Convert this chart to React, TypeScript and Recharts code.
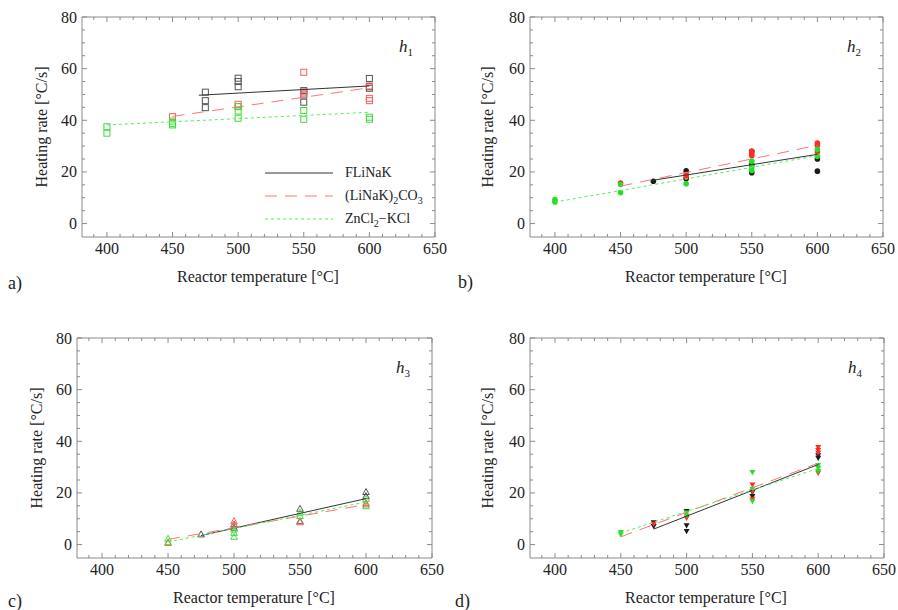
import { ScatterChart, Scatter, XAxis, YAxis, Legend } from 'recharts';

type Pt = { t: number; r: number };
const at = (t: number, ...rs: number[]): Pt[] => rs.map((r) => ({ t, r }));

// axis ticks
const xMajorTicks = [400, 450, 500, 550, 600, 650];
const yMajorTicks = [0, 20, 40, 60, 80];
const xTicks = [390, 400, 410, 420, 430, 440, 450, 460, 470, 480, 490, 500, 510, 520, 530, 540, 550, 560, 570, 580, 590, 600, 610, 620, 630, 640, 650];
const yTicks = [0, 5, 10, 15, 20, 25, 30, 35, 40, 45, 50, 55, 60, 65, 70, 75, 80];
const X_DOMAIN: [number, number] = [381, 650];
const Y_DOMAIN: [number, number] = [-5.2, 80];

const seriesNames = ['FLiNaK', '(LiNaK)2CO3', 'ZnCl2−KCl'];

// h1 – heating rate, open squares
const h1Flinak = [...at(475, 50.9, 47.6, 44.9), ...at(500, 56.3, 55, 53), ...at(550, 51.5, 49.8, 47), ...at(600, 56.2, 53, 52.4)];
const h1Carb = [...at(450, 41.4), ...at(500, 46.2, 45.3), ...at(550, 58.6, 51, 50.5), ...at(600, 53.3, 48.5, 47.6)];
const h1Zn = [...at(400, 37.5, 35), ...at(450, 39.7, 38.8, 38.2), ...at(500, 45.3, 43.6, 40.8), ...at(550, 43.8, 40.4), ...at(600, 41.2, 40.4)];
const h1FlinakFit = [...at(470, 49.7), ...at(600, 53.3)];
const h1CarbFit = [...at(450, 41.5), ...at(600, 52.6)];
const h1ZnFit = [...at(400, 38.2), ...at(600, 43.1)];

// h2 – filled circles
const h2Flinak = [...at(475, 16.4), ...at(500, 20.4, 17.4), ...at(550, 28, 22.8, 19.7), ...at(600, 25, 20.3)];
const h2Carb = [...at(450, 15.7), ...at(500, 19, 18), ...at(550, 28, 27, 26.3), ...at(600, 31.2, 30.3, 27.7)];
const h2Zn = [...at(400, 9.3, 8.4), ...at(450, 15.1, 12), ...at(500, 15.4), ...at(550, 24.1, 21.9, 20.6), ...at(600, 28.8, 26.1)];
const h2FlinakFit = [...at(475, 16.8), ...at(600, 26.8)];
const h2CarbFit = [...at(450, 14.5), ...at(600, 30.3)];
const h2ZnFit = [...at(400, 8.3), ...at(600, 26.3)];

// h3 – open triangles
const h3Flinak = [...at(475, 3.9), ...at(500, 7.7, 6.5), ...at(550, 13.8, 9), ...at(600, 20.3, 18.7)];
const h3Carb = [...at(450, 0.6), ...at(500, 9, 7.7), ...at(550, 8.6), ...at(600, 16, 15.5)];
const h3Zn = [...at(450, 2.2, 0.9), ...at(500, 5.8, 4.5, 3), ...at(550, 12.3, 11), ...at(600, 17.7, 14.8)];
const h3FlinakFit = [...at(475, 3.5), ...at(600, 17.8)];
const h3CarbFit = [...at(450, 2), ...at(600, 15.5)];
const h3ZnFit = [...at(450, 1), ...at(600, 16.5)];

// h4 – filled down triangles
const h4Flinak = [...at(475, 8.6, 7.1), ...at(500, 12.9, 7.4, 5.2), ...at(550, 20.3, 18.7), ...at(600, 34.5, 33.5)];
const h4Carb = [...at(475, 8), ...at(500, 10.3), ...at(550, 23.2, 20.6, 17.7), ...at(600, 37.7, 36.5, 35.5, 27.7)];
const h4Zn = [...at(450, 4.8, 3.9), ...at(500, 12.3, 11.2), ...at(550, 28, 21.5, 16.8), ...at(600, 30.7, 29.7, 28.4)];
const h4FlinakFit = [...at(475, 6), ...at(600, 31)];
const h4CarbFit = [...at(450, 3), ...at(600, 31.5)];
const h4ZnFit = [...at(450, 4.5), ...at(600, 29.5)];

const FONT = '"Liberation Serif", "Times New Roman", serif';
const FRAME = '#8a8a8a';
const TEXT = '#222';
const PT_COLORS = ['#1a1a1a', '#ff2a2a', '#22e022'];
const OPEN_COLORS = ['#555', '#ff5a5a', '#3ddc3d'];
const LINE_STYLES = [
  { stroke: '#333', dash: undefined as string | undefined },
  { stroke: '#ff7575', dash: '12 8' },
  { stroke: '#55ee55', dash: '3 3' },
];

// outer space around each plot; axes take 1px of it
const ML = 70, MT = 10, MR = 20, MB = 30;

const marker = (kind: string, color: string) => (props: any) => {
  const { cx, cy } = props;
  if (cx == null || cy == null) return <g />;
  if (kind === 'square') return <rect x={cx - 3} y={cy - 3} width={6} height={6} fill="none" stroke={color} strokeWidth={1} />;
  if (kind === 'dot') return <circle cx={cx} cy={cy} r={2.8} fill={color} />;
  if (kind === 'up') return <path d={`M${cx},${cy - 3.6}L${cx + 3.3},${cy + 2.4}L${cx - 3.3},${cy + 2.4}Z`} fill="none" stroke={color} strokeWidth={1} />;
  return <path d={`M${cx - 3},${cy - 2.2}L${cx + 3},${cy - 2.2}L${cx},${cy + 3}Z`} fill={color} />;
};

const noShape = () => <g />;

const BottomTick = (props: any) => {
  const { x, y, payload } = props;
  const major = xMajorTicks.includes(payload.value);
  return (
    <g>
      <line x1={x} y1={y} x2={x} y2={y - (major ? 5 : 3)} stroke={FRAME} />
      {major && (
        <text x={x} y={y + 17} textAnchor="middle" fontSize={16} fill={TEXT} fontFamily={FONT}>
          {payload.value}
        </text>
      )}
    </g>
  );
};
const TopTick = (props: any) => {
  const { x, y, payload } = props;
  const major = xMajorTicks.includes(payload.value);
  return <line x1={x} y1={y} x2={x} y2={y + (major ? 5 : 3)} stroke={FRAME} />;
};
const LeftTick = (props: any) => {
  const { x, y, payload } = props;
  const major = yMajorTicks.includes(payload.value);
  return (
    <g>
      <line x1={x} y1={y} x2={x + (major ? 5 : 3)} y2={y} stroke={FRAME} />
      {major && (
        <text x={x - 5} y={y + 5.5} textAnchor="end" fontSize={16} fill={TEXT} fontFamily={FONT}>
          {payload.value}
        </text>
      )}
    </g>
  );
};
const RightTick = (props: any) => {
  const { x, y, payload } = props;
  const major = yMajorTicks.includes(payload.value);
  return <line x1={x} y1={y} x2={x - (major ? 5 : 3)} y2={y} stroke={FRAME} />;
};

const withSubs = (s: string) =>
  s.split(/(\d)/).map((part, i) =>
    /\d/.test(part) ? (
      <sub key={i} style={{ fontSize: 10, verticalAlign: 'sub', lineHeight: 0 }}>{part}</sub>
    ) : (
      <span key={i}>{part}</span>
    ),
  );

const legendContent = () => (
  <div style={{ fontFamily: FONT, fontSize: 14, color: TEXT }}>
    {seriesNames.map((n, i) => (
      <div key={n} style={{ display: 'flex', alignItems: 'center', height: 23 }}>
        <svg width={68} height={4}>
          <line x1={0} x2={68} y1={2} y2={2} stroke={LINE_STYLES[i].stroke} strokeDasharray={LINE_STYLES[i].dash} />
        </svg>
        <span style={{ marginLeft: 12, whiteSpace: 'nowrap' }}>{withSubs(n)}</span>
      </div>
    ))}
  </div>
);

type PanelProps = {
  plot: { x: number; y: number; w: number; h: number };
  sets: Pt[][];
  fits: Pt[][];
  kind: string;
  idx: number;
  withLegend?: boolean;
};

function Panel({ plot, sets, fits, kind, idx, withLegend }: PanelProps) {
  const open = kind === 'square' || kind === 'up';
  return (
    <div style={{ position: 'absolute', left: plot.x - ML, top: plot.y - MT }}>
      <ScatterChart
        width={plot.w + ML + MR}
        height={plot.h + MT + MB}
        margin={{ top: MT - 1, right: MR - 1, bottom: MB - 1, left: ML - 1 }}
      >
        <XAxis xAxisId="b" type="number" dataKey="t" domain={X_DOMAIN} ticks={xTicks} interval={0} allowDataOverflow
          height={1} tickSize={0} tickMargin={0} tickLine={false} axisLine={{ stroke: FRAME }} tick={BottomTick} />
        <XAxis xAxisId="t" orientation="top" type="number" dataKey="t" domain={X_DOMAIN} ticks={xTicks} interval={0} allowDataOverflow
          height={1} tickSize={0} tickMargin={0} tickLine={false} axisLine={{ stroke: FRAME }} tick={TopTick} />
        <YAxis yAxisId="l" type="number" dataKey="r" domain={Y_DOMAIN} ticks={yTicks} interval={0} allowDataOverflow
          width={1} tickSize={0} tickMargin={0} tickLine={false} axisLine={{ stroke: FRAME }} tick={LeftTick} />
        <YAxis yAxisId="r" orientation="right" type="number" dataKey="r" domain={Y_DOMAIN} ticks={yTicks} interval={0} allowDataOverflow
          width={1} tickSize={0} tickMargin={0} tickLine={false} axisLine={{ stroke: FRAME }} tick={RightTick} />
        {sets.map((d, i) => (
          <Scatter key={`s${i}`} xAxisId="b" yAxisId="l" data={d} isAnimationActive={false}
            shape={marker(kind, open ? OPEN_COLORS[i] : PT_COLORS[i])} />
        ))}
        {fits.map((d, i) => (
          <Scatter key={`f${i}`} xAxisId="b" yAxisId="l" data={d} isAnimationActive={false} shape={noShape}
            line={{ stroke: LINE_STYLES[i].stroke, strokeWidth: 1, strokeDasharray: LINE_STYLES[i].dash }} />
        ))}
        {withLegend && (
          <Legend layout="vertical" align="center" verticalAlign="middle" content={legendContent}
            wrapperStyle={{ left: 253, top: 154, width: 200 }} />
        )}
      </ScatterChart>
      <div style={{ position: 'absolute', left: ML + plot.w - 36, top: MT + 20, fontFamily: FONT, fontSize: 17, color: TEXT, fontStyle: 'italic' }}>
        h<sub style={{ fontSize: 11, fontStyle: 'normal', verticalAlign: 'sub', lineHeight: 0 }}>{idx}</sub>
      </div>
    </div>
  );
}

const textBase = { position: 'absolute' as const, fontFamily: FONT, color: TEXT, whiteSpace: 'nowrap' as const };

function YTitle({ x, y }: { x: number; y: number }) {
  return (
    <div style={{ ...textBase, left: x, top: y, fontSize: 16, transform: 'translate(-50%, -50%) rotate(-90deg)' }}>
      Heating rate [°C/s]
    </div>
  );
}
function XTitle({ x, y }: { x: number; y: number }) {
  return (
    <div style={{ ...textBase, left: x, top: y, fontSize: 16, transform: 'translate(-50%, -50%)' }}>
      Reactor temperature [°C]
    </div>
  );
}
function Letter({ x, y, t }: { x: number; y: number; t: string }) {
  return <div style={{ ...textBase, left: x, top: y, fontSize: 18, transform: 'translateY(-50%)' }}>{t}</div>;
}

export default function App() {
  return (
    <div style={{ position: 'absolute', left: 0, top: 0, width: 898, height: 610, background: '#fff', overflow: 'hidden' }}>
      <Panel plot={{ x: 82, y: 17, w: 353, h: 220 }} sets={[h1Flinak, h1Carb, h1Zn]} fits={[h1FlinakFit, h1CarbFit, h1ZnFit]} kind="square" idx={1} withLegend />
      <Panel plot={{ x: 530, y: 17, w: 353, h: 220 }} sets={[h2Flinak, h2Carb, h2Zn]} fits={[h2FlinakFit, h2CarbFit, h2ZnFit]} kind="dot" idx={2} />
      <Panel plot={{ x: 77, y: 338, w: 355, h: 220 }} sets={[h3Flinak, h3Carb, h3Zn]} fits={[h3FlinakFit, h3CarbFit, h3ZnFit]} kind="up" idx={3} />
      <Panel plot={{ x: 530, y: 338, w: 354, h: 220 }} sets={[h4Flinak, h4Carb, h4Zn]} fits={[h4FlinakFit, h4CarbFit, h4ZnFit]} kind="down" idx={4} />
      <YTitle x={42} y={127} />
      <YTitle x={488} y={127} />
      <YTitle x={37} y={448} />
      <YTitle x={488} y={448} />
      <XTitle x={258} y={277} />
      <XTitle x={706} y={277} />
      <XTitle x={254} y={598} />
      <XTitle x={706} y={598} />
      <Letter x={8} y={283} t="a)" />
      <Letter x={458} y={282} t="b)" />
      <Letter x={8} y={601} t="c)" />
      <Letter x={455} y={601} t="d)" />
    </div>
  );
}
